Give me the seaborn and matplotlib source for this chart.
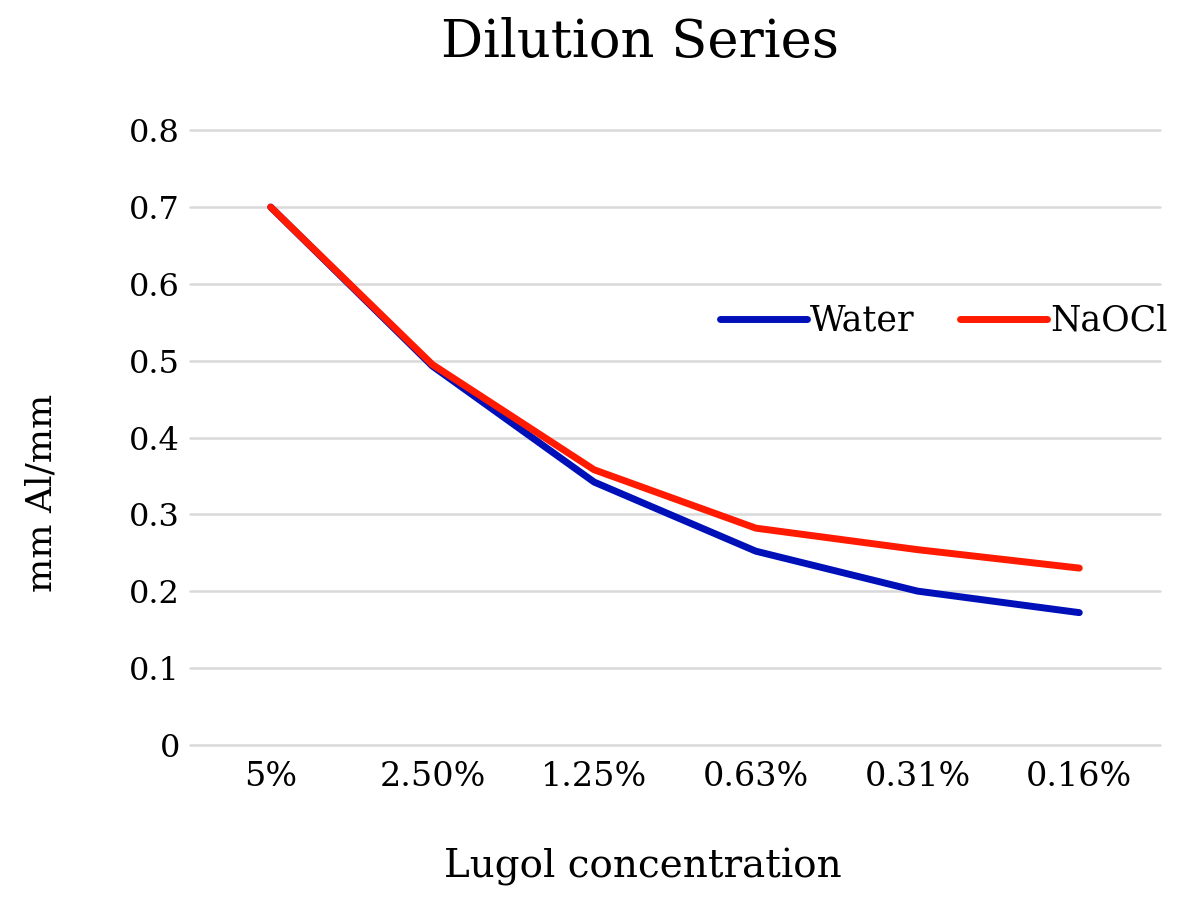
import matplotlib
matplotlib.use("Agg")
import matplotlib.pyplot as plt
import pandas as pd
import seaborn as sns

concentrations = ['5%', '2.50%', '1.25%', '0.63%', '0.31%', '0.16%']
water = [0.70, 0.493, 0.342, 0.252, 0.200, 0.172]
naocl = [0.70, 0.495, 0.358, 0.282, 0.254, 0.230]
series_names = ['Water', 'NaOCl']
colors = {'Water': '#0010B8', 'NaOCl': '#FF1A00'}

df = pd.DataFrame({
    'concentration': concentrations * 2,
    'value': water + naocl,
    'series': [series_names[0]] * len(water) + [series_names[1]] * len(naocl),
})

sns.set_style('white')
plt.rcParams['font.family'] = ['DejaVu Serif']
for key in ('text.color', 'axes.labelcolor', 'xtick.color', 'ytick.color'):
    plt.rcParams[key] = 'black'

fig = plt.figure(figsize=(11.79, 9.24), dpi=100)
ax = fig.add_axes([0.161, 0.194, 0.823, 0.665])

sns.lineplot(data=df, x='concentration', y='value', hue='series', palette=colors,
             sort=False, linewidth=5, ax=ax, legend=True)
for line in ax.get_lines():
    line.set_solid_capstyle('round')
    line.set_solid_joinstyle('round')

ax.set_xlim(-0.5, 5.5)
ax.set_ylim(0, 0.8)
ax.set_yticks([0, 0.1, 0.2, 0.3, 0.4, 0.5, 0.6, 0.7, 0.8])
ax.set_yticklabels(['0', '0.1', '0.2', '0.3', '0.4', '0.5', '0.6', '0.7', '0.8'])
ax.yaxis.grid(True, color='#d9d9d9', linewidth=1.8)
for gl in ax.get_ygridlines():
    gl.set_clip_on(False)
ax.set_axisbelow(True)
for s in ax.spines.values():
    s.set_visible(False)
ax.tick_params(axis='x', length=0, labelsize=24, pad=12)
ax.tick_params(axis='y', length=0, labelsize=23, pad=7)

fig.suptitle('Dilution Series', fontsize=38, x=0.543, y=0.982, va='top')
ax.set_xlabel('Lugol concentration', fontsize=28)
ax.xaxis.set_label_coords(0.467, -0.168)
ax.set_ylabel('mm Al/mm', fontsize=26)
ax.yaxis.set_label_coords(-0.135, 0.41)

leg = ax.legend(loc='center right', bbox_to_anchor=(1.04, 0.69), ncol=2, frameon=False,
                fontsize=25, handlelength=2.5, handletextpad=0.1, columnspacing=1.3)
for h in leg.get_lines():
    h.set_linewidth(5)
    h.set_solid_capstyle('round')

plt.savefig('out.png', dpi=100)
